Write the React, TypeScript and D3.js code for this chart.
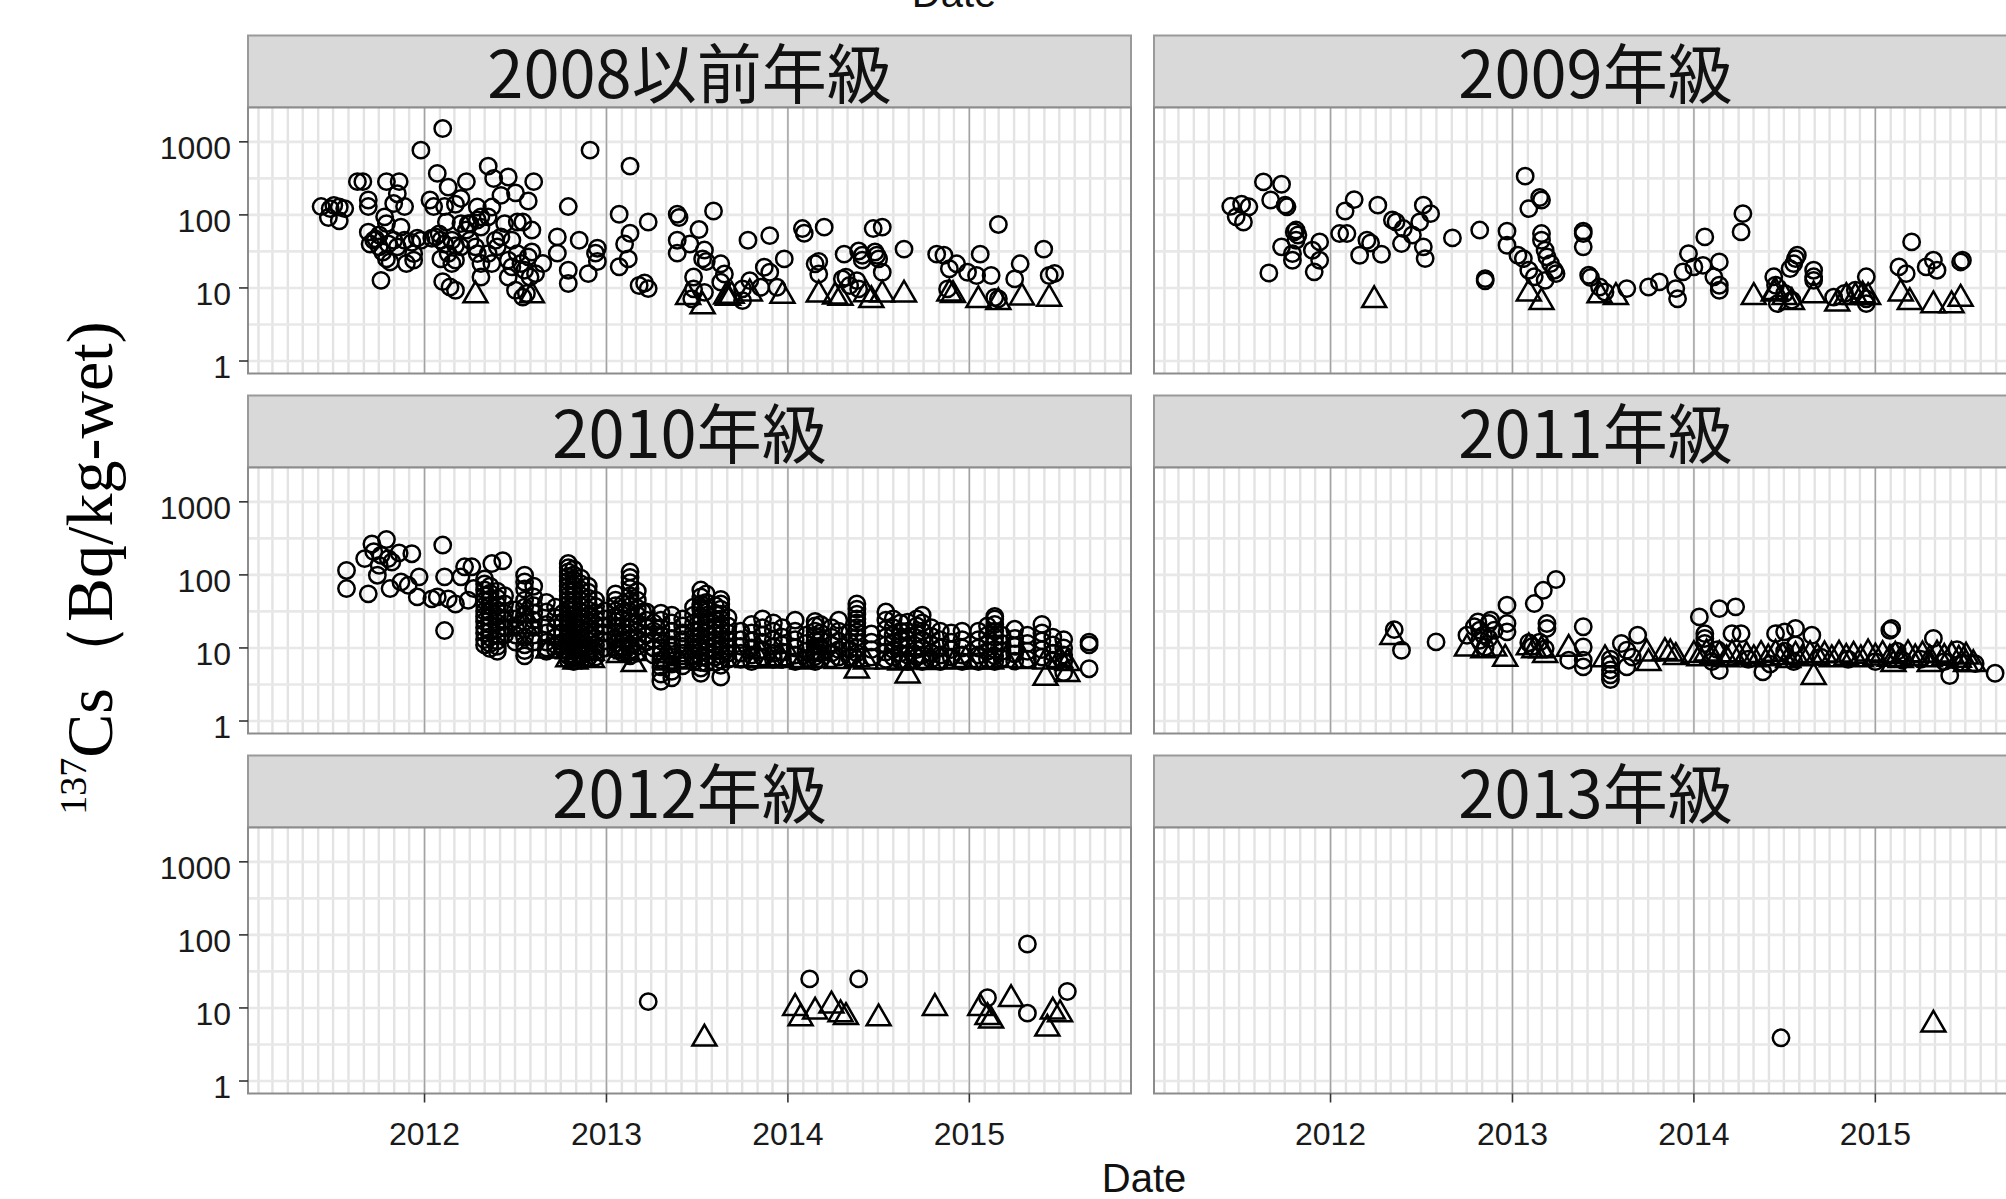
import React from "react";
import * as d3 from "d3";

type P = [number, number];
type Col = [number, number[]];

const PANEL_TITLES = ["2008以前年級", "2009年級", "2010年級", "2011年級", "2012年級", "2013年級"];
const X_TICK_YEARS = [2012, 2013, 2014, 2015];
const Y_TICKS = [1, 10, 100, 1000];
const Y_TICK_LABELS = ["1", "10", "100", "1000"];
const X_DOMAIN = [2011.027, 2015.891];
const Y_DOMAIN = [0.6745, 2951];
const X_TITLE = "Date";

// 2008以前年級 — detected (circles) and below detection limit (triangles)
const det2008: P[] = [
  [2012.10,1520],[2011.98,770],[2012.91,770],[2013.13,465],[2012.35,465],[2012.07,370],[2012.46,330],[2012.38,315],[2012.60,285],[2012.23,285],[2011.63,285],[2011.66,285],[2011.79,285],[2011.86,285],[2012.13,240],[2011.85,195],[2012.50,200],[2012.42,185],[2012.20,168],[2012.03,160],[2012.57,155],[2011.69,160],[2011.83,143],[2011.89,130],[2011.69,130],[2012.05,130],[2012.11,130],[2012.17,140],[2012.29,128],[2012.37,128],[2011.43,130],[2011.48,122],[2011.50,135],[2011.53,128],[2011.56,122],[2011.47,92],[2011.53,83],[2012.79,130],[2013.07,102],[2013.23,80],[2013.39,102],[2013.40,92],[2011.78,94],[2011.79,76],[2012.12,80],[2012.25,76],[2012.29,85],[2012.35,94],[2012.31,68],[2012.51,80],[2012.54,80],[2012.59,62],[2011.69,58],[2011.75,53],[2012.73,50],[2012.85,45],[2013.13,56],[2013.39,45],[2013.46,40],[2013.10,40],[2012.95,35],[2012.94,30],[2012.73,30],[2012.95,23],[2013.39,30],[2013.12,25],[2013.07,19.5],[2012.79,17.5],[2012.79,11.5],[2012.90,15.7],[2013.18,10.8],[2013.23,9.8],[2013.21,11.7],[2011.76,12.7],[2012.10,12.2],[2012.14,10.3],[2012.17,9.3],[2013.48,14.1],[2013.47,7.1],[2012.54,7.5],[2012.56,8.4],
  [2011.72,45],[2011.70,40],[2011.73,47],[2011.75,36.5],[2011.77,31],[2011.80,40],[2011.79,25],[2011.81,22.7],[2011.83,45],[2011.85,36.5],[2011.87,68],[2011.89,45],[2011.90,21.6],[2011.93,42],[2011.94,29.5],[2011.94,24],[2011.96,48],[2011.98,45],[2012.04,48],[2012.06,50],[2012.08,55],[2012.09,45],[2012.11,40],[2012.15,45],[2012.17,38],[2012.13,29.5],[2012.09,25],[2012.15,21.6],[2012.17,24],[2012.20,36.5],[2012.23,62],[2012.24,76],[2012.25,45],[2012.28,36.5],[2012.29,29.5],[2012.31,21.6],[2012.31,14.1],[2012.35,29.5],[2012.37,21.6],[2012.39,45],[2012.40,36.5],[2012.42,50],[2012.44,76],[2012.46,24],[2012.48,45],[2012.48,19.4],[2012.51,29.5],[2012.53,21.6],[2012.57,26.6],[2012.59,31],[2012.61,15.7],[2012.65,21.6],[2012.46,14.1],[2012.50,9.3],[2012.55,17.5],[2012.58,14.1],[2012.20,76],[2012.31,94],
  [2013.59,113],[2013.51,63],[2013.54,33],[2013.53,25],[2013.55,23],[2013.63,21.4],[2013.65,15.5],[2013.63,12],[2013.48,9.7],[2013.54,8.7],[2013.78,45],[2013.90,52],[2013.98,25],[2013.87,19.2],[2013.90,16.4],[2013.85,10.2],[2013.94,10.2],[2013.79,12.6],[2013.75,9.7],[2014.08,65],[2014.09,56],[2014.20,68],[2014.15,21.4],[2014.17,23],[2014.17,15.5],[2014.31,29],[2014.39,32],[2014.41,28],[2014.41,24],[2014.48,31],[2014.49,28],[2014.50,25],[2014.47,65],[2014.52,68],[2014.52,16.4],[2014.64,34],[2014.30,13.3],[2014.32,14],[2014.34,10.8],[2014.38,12.6],[2014.39,9.7],[2014.82,29],[2014.86,28],[2014.93,21.4],[2014.89,18.3],[2014.99,16.4],[2015.06,29],[2015.12,14.8],[2015.04,14.8],[2015.16,74],[2015.28,21.4],[2015.25,13.3],[2015.41,34],[2015.44,14.8],[2015.47,15.8],[2015.16,7.1],[2013.75,6.7],[2014.88,9.7],[2015.14,7.4]
];
const nd2008: P[] = [
  [2012.28,7.9],[2012.59,7.9],[2013.45,7.5],[2013.53,5.6],[2013.66,7.6],[2013.69,7.8],[2013.67,7.3],[2013.79,8.4],[2013.97,7.8],[2014.17,8.1],[2014.26,7.6],[2014.29,7.3],[2014.43,8.2],[2014.46,6.8],[2014.52,8.1],[2014.64,8.1],[2014.89,8.4],[2014.91,8.0],[2015.05,6.8],[2015.16,6.4],[2015.29,7.4],[2015.44,7.1]
];

// 2009年級
const det2009: P[] = [
  [2011.63,283],[2011.73,263],[2011.45,131],[2011.51,140],[2011.55,129],[2011.48,94],[2011.52,80],[2011.67,160],[2011.75,136],[2011.76,129],[2011.81,62],[2011.82,53],[2011.80,58.5],[2011.81,45],[2011.73,36.5],[2011.79,29.5],[2011.79,23.9],[2011.90,32.8],[2011.94,42.7],[2011.94,23.9],[2011.66,16],[2011.91,16.6],
  [2012.13,162],[2012.08,113],[2012.26,136],[2012.05,55.5],[2012.09,55.5],[2012.20,45],[2012.22,41.3],[2012.16,28],[2012.28,28.9],[2012.34,85],[2012.36,80],[2012.40,65],[2012.45,53],[2012.39,40.5],[2012.51,136],[2012.55,104],[2012.49,80],[2012.51,36.5],[2012.52,25.2],[2012.67,48.4],[2012.82,62],
  [2012.97,60],[2012.97,38.4],[2013.03,28],[2013.06,25.2],[2013.09,17.5],[2013.12,14.2],[2013.16,55.5],[2013.16,45],[2013.18,32.8],[2013.19,26.6],[2013.21,21.5],[2013.23,17.5],[2013.24,15.7],[2013.18,12.7],[2013.07,339],[2013.15,173],[2013.16,160],[2013.09,122],[2012.85,13.4],[2012.85,12.5],
  [2013.39,60],[2013.39,55.5],[2013.39,36.5],[2013.42,14.9],[2013.43,13.9],[2013.48,10.3],[2013.51,8.8],[2013.63,9.8],[2013.75,10.3],[2013.81,12.1],[2013.90,9.8],[2013.91,7.1],[2013.94,16.6],[2013.97,29.5],[2014.06,50],[2014.00,19.4],[2014.05,20.4],[2014.14,22.7],[2014.11,14.2],[2014.14,10.9],[2014.14,9.3],
  [2014.27,104],[2014.26,58.5],[2014.44,14.2],[2014.45,10.9],[2014.53,18.4],[2014.55,21.5],[2014.56,25.2],[2014.57,28],[2014.66,17.5],[2014.66,14.2],[2014.66,12.7],[2014.77,7.5],[2014.83,8.4],[2014.89,9.3],[2014.95,14.2],[2014.95,7.1],[2015.13,19.4],[2015.17,15.7],[2015.20,42.7],[2015.28,19.4],[2015.32,23.9],[2015.34,17.5],[2015.47,22.7],[2015.48,23.9],[2014.50,8.4],[2014.54,6.8],[2014.46,6.1],[2014.95,6.1]
];
const nd2009: P[] = [
  [2012.24,6.8],[2013.09,8.4],[2013.16,6.4],[2013.48,7.9],[2013.57,7.5],[2014.33,7.5],[2014.44,8.4],[2014.50,7.5],[2014.54,6.4],[2014.66,7.9],[2014.79,6.1],[2014.84,7.5],[2014.89,7.5],[2014.93,7.9],[2014.96,7.5],[2015.14,8.4],[2015.19,6.4],[2015.32,5.8],[2015.42,5.8],[2015.47,7.1],[2014.45,8.8]
];

// 2010年級 (scattered points + same-day sampling columns)
const det2010: P[] = [
  [2011.57,115],[2011.57,65],[2011.69,55],[2011.71,265],[2011.79,305],[2011.72,208],[2011.76,186],[2011.67,167],[2011.80,167],[2011.82,150],[2011.86,200],[2011.93,195],[2011.75,135],[2011.74,99],[2011.81,65],[2011.87,80],[2011.91,72],[2011.97,94],[2011.96,50],[2012.04,47],[2012.07,50],[2012.11,94],[2012.13,47],[2012.17,40],[2012.20,94],[2012.22,129],[2012.26,129],[2012.24,45],[2012.27,65],[2012.37,143],[2012.43,156],[2012.10,256],[2012.11,17.3],[2012.55,7.8],[2013.20,31],[2013.52,36]
];
const det2010Cols: Col[] = [
  [2012.33,[88,75,62,52,44,38,32,27,23,19,16,13,11]],
  [2012.36,[70,56,46,38,31,26,21,17,14,11.5,9.8]],
  [2012.40,[60,48,39,32,27,22,18,15,12.5,10.5,9]],
  [2012.44,[52,40,30,24,19,15]],
  [2012.50,[33,25,19,15,12]],
  [2012.55,[99,80,64,45,36,29,23,18,14,11,9.2]],
  [2012.60,[70,50,38,30,24,19,15,12]],
  [2012.67,[42,31,21,16,12,10,9]],
  [2012.72,[36,26,19,14,11,9.5]],
  [2012.76,[30,22,16,12,9.5]],
  [2012.79,[143,125,110,95,82,70,60,52,45,39,34,29,25,22,19,16.5,14,12,10.5,9,7.8,6.8]],
  [2012.82,[120,100,85,72,62,53,45,38,33,28,24,20,17,14.5,12.5,10.5,9,7.5,6.5]],
  [2012.86,[90,75,62,52,44,37,31,26,22,18.5,15.5,13,11,9.5,8,6.8]],
  [2012.90,[70,58,48,40,33,27,22,18,15,12.5,10.5,8.8,7.4]],
  [2012.94,[45,37,30,25,20,16.5,13.5,11,9,7.5]],
  [2012.99,[32,25,20,16,12.5,10]],
  [2013.05,[55,45,38,32,27,23,19,16,13.5,11.5,9.5]],
  [2013.09,[40,31,25,20,16,13,10.5,8.5]],
  [2013.13,[110,92,78,65,52,44,37,31,26,22,18.5,15.5,13,11,9.3,7.8]],
  [2013.17,[60,45,35,28,22,17,13.5,10.5,8.5]],
  [2013.22,[31,24,19,15,12]],
  [2013.26,[22,17,13,10,8]],
  [2013.30,[30,24,19,15,12.5,10,8.3,6.8,5.5,4.4,3.5]],
  [2013.36,[28,22,17,13.5,11,9,7.5,6,4.8,3.9]],
  [2013.42,[25,20,16,13,10.5,8.5,7,5.7]],
  [2013.48,[36,28,22,17,14,11.5,9.5,7.8,6.4]],
  [2013.52,[62,50,40,33,27,22,18,15,12.5,10.5,9,7.5,6.3,5.3,4.5]],
  [2013.55,[55,42,34,28,23,19,16,13,11,9,7.5,6.2]],
  [2013.60,[38,30,24,19.5,16,13,11,9,7.5,6.3]],
  [2013.63,[46,40,34,29,25,21,18,15,13,11,9.3,8,6.8,5.8,4.0]],
  [2013.67,[26,20,16,13,10.5,8.5,7]],
  [2013.74,[17,13,10.5,8.5,7]],
  [2013.80,[21,16,12.5,10,8,6.5]],
  [2013.86,[25,19,15,12,9.5,7.5]],
  [2013.92,[22,17,13,10.5,8.5,7]],
  [2013.97,[19,14,11,8.8,7]],
  [2014.04,[24,17,13,10,8,6.5]],
  [2014.10,[15,11.5,9,7.2]],
  [2014.15,[23,20,17,14.5,12.5,10.5,9,7.6,6.5]],
  [2014.18,[21,16,13,10.5,8.5,7]],
  [2014.24,[19,14,11,8.5,7]],
  [2014.28,[24,17,12.5,9.5,7.5]],
  [2014.34,[16,12,9.5,7.5]],
  [2014.38,[40,34,29,25,22,19,16.5,14,12,10,8.5,7]],
  [2014.46,[15.5,12,9.5,7.5]],
  [2014.54,[31,24,18,14,11,8.8,7]],
  [2014.58,[25,19,15,12,9.5,7.5]],
  [2014.62,[22,17,13,10.5,8.5,6.8]],
  [2014.66,[22.5,17,13,10,8,6.5]],
  [2014.71,[25,20,15.5,12,9.5,7.5]],
  [2014.74,[28,22,17,13,10,8,6.5]],
  [2014.79,[19,14.5,11,8.5,7]],
  [2014.84,[17,13,10,8,6.5]],
  [2014.90,[16,12,9.5,7.5]],
  [2014.96,[17,13,10,8,6.5]],
  [2015.05,[17,13,10,8,6.5]],
  [2015.10,[20,15,11.5,9,7]],
  [2015.14,[27,25,21,17,14,11.5,9.5,7.8,6.5]],
  [2015.18,[15,11.5,9,7.2]],
  [2015.25,[18,13.5,10.5,8.3,6.6]],
  [2015.32,[15,11.5,9,7]],
  [2015.40,[21,16,12.5,9.5,7.5]],
  [2015.46,[14,11,8.5,6.8]],
  [2015.52,[13,10,8,6.5,4.6]],
  [2015.66,[12,11,5.2]]
];
const nd2010Cols: Col[] = [
  [2012.55,[28,20]],[2012.68,[9.2]],[2012.79,[7,9,12]],[2012.83,[6.5,8,11]],[2012.87,[7,9.5]],[2012.92,[6.8,8.5]],[2013.07,[8,10]],[2013.11,[9]],[2013.15,[6.0,8.5]],[2013.33,[6.3,8]],[2013.40,[6.5]],[2013.45,[7.5]],[2013.72,[7]],[2013.78,[6.8]],[2013.84,[7,9]],[2013.90,[6.7]],[2013.96,[7.2]],[2014.02,[6.8]],[2014.08,[6.5]],[2014.15,[6.8,8.5]],[2014.20,[6.8]],[2014.27,[6.6]],[2014.38,[4.9,7]],[2014.43,[6.5]],[2014.55,[6.5]],[2014.62,[6.3]],[2014.66,[4.2,6.5]],[2014.72,[6.6]],[2014.78,[6.4]],[2014.85,[6.6]],[2014.92,[6.5]],[2014.98,[6.8]],[2015.04,[6.5]],[2015.12,[6.5]],[2015.20,[6.8]],[2015.30,[6.6]],[2015.42,[3.9,6.5]],[2015.50,[6.8]],[2015.54,[4.4,6.2]]
];

// 2011年級
const det2011: P[] = [
  [2012.35,17.8],[2012.39,9.3],[2012.58,12.1],[2012.75,14.9],[2012.81,22.7],[2012.82,17.5],[2012.87,21.6],[2012.88,24],[2012.90,17.5],[2012.97,38.5],[2012.97,21.6],[2012.97,16.6],[2012.82,12.7],[2012.85,10.3],[2012.87,13.5],[2012.79,19.5],[2012.84,15],
  [2013.12,40.5],[2013.17,61.5],[2013.24,86.5],[2013.19,21.6],[2013.19,18.5],[2013.11,10.5],[2013.15,12],[2013.18,9.8],[2013.09,11.8],[2013.39,19.5],[2013.39,10.3],[2013.39,6.8],[2013.39,5.5],[2013.31,6.8],[2013.54,7],[2013.54,6],[2013.54,5],[2013.54,4.3],[2013.54,3.7],[2013.60,11.5],[2013.63,9.3],[2013.66,7.5],[2013.63,5.5],[2013.69,15],
  [2014.03,26.6],[2014.14,34.5],[2014.23,36.5],[2014.06,15.7],[2014.06,13.5],[2014.06,11.5],[2014.14,4.9],[2014.21,15.7],[2014.26,15.7],[2014.38,4.7],[2014.45,15.7],[2014.50,16.6],[2014.56,18.5],[2014.65,14.9],[2015.08,17.5],[2015.09,18.5],[2015.32,13.5],[2015.55,6.1],[2015.66,4.5],[2015.41,4.2],
  [2014.10,6.5],[2014.30,7],[2014.42,6],[2014.55,6.5],[2014.70,7.5],[2014.85,7],[2015.00,6.5],[2015.15,6.8],[2015.25,7],[2015.38,6.5],[2015.48,6.3],[2014.13,9.5],[2014.50,9],[2014.56,11],[2015.12,9],[2015.45,9.5]
];
const nd2011: P[] = [
  [2012.34,14.1],[2012.75,9.8],[2012.84,9.3],[2012.90,9.8],[2012.96,7.1],[2013.09,10.2],[2013.12,9.3],[2013.16,9.3],[2013.18,8.0],[2013.31,9.7],[2013.51,7],[2013.74,8.4],[2013.75,6.2],[2013.84,8.8],[2013.87,8.4],[2013.90,7.5],[2014.66,4.0],
  [2014.00,8.0],[2014.03,7.2],[2014.07,8.4],[2014.10,7.5],[2014.14,8.0],[2014.18,7.0],[2014.21,8.2],[2014.25,7.4],[2014.29,7.8],[2014.33,7.0],[2014.37,8.0],[2014.41,7.2],[2014.45,8.3],[2014.49,7.5],[2014.52,6.8],[2014.56,7.8],[2014.60,7.2],[2014.64,8.0],[2014.68,7.4],[2014.72,7.9],[2014.76,7.0],[2014.80,8.1],[2014.84,7.3],[2014.88,7.8],[2014.92,7.0],[2014.96,8.4],[2015.00,7.4],[2015.04,8.0],[2015.08,7.1],[2015.11,7.8],[2015.14,6.8],[2015.18,8.2],[2015.22,7.2],[2015.26,7.9],[2015.30,7.0],[2015.34,8.1],[2015.38,7.3],[2015.42,7.8],[2015.46,6.9],[2015.50,7.6],[2015.54,6.0],[2015.10,6.0],[2015.30,6.0],[2015.50,6.0]
];

// 2012年級
const det2012: P[] = [[2013.23,12.2],[2014.12,25],[2014.39,25],[2015.32,75],[2015.32,8.5],[2015.10,13.8],[2015.54,16.8]];
const nd2012: P[] = [[2013.54,3.8],[2014.04,10],[2014.07,7.2],[2014.15,8.9],[2014.24,10.8],[2014.29,8.2],[2014.32,7.5],[2014.50,7.2],[2014.81,10],[2015.06,10],[2015.10,7.5],[2015.12,6.7],[2015.23,13.2],[2015.43,5.2],[2015.46,8.9],[2015.50,8.2]];

// 2013年級
const det2013: P[] = [[2014.48,3.9]];
const nd2013: P[] = [[2015.32,5.9]];

const flatCols = (cols: Col[]): P[] => cols.flatMap(([t, vs]) => vs.map((v) => [t, v] as P));

const PANEL_DET: P[][] = [det2008, det2009, [...det2010, ...flatCols(det2010Cols)], det2011, det2012, det2013];
const PANEL_ND: P[][] = [nd2008, nd2009, flatCols(nd2010Cols), nd2011, nd2012, nd2013];

// layout
const W = 2006, H = 1199;
const PW = 883, PH = 266, STRIP_H = 72;
const COL_X = [248, 1154];
const ROW_PITCH = 360, FIRST_STRIP_TOP = 35.5;

function toDate(y: number): Date {
  const yr = Math.floor(y);
  const s = Date.UTC(yr, 0, 1), e = Date.UTC(yr + 1, 0, 1);
  return new Date(s + (y - yr) * (e - s));
}

const TRI_SIDE = 24;
const triH = (TRI_SIDE * Math.sqrt(3)) / 2;
const triPath = `M0,${-(2 * triH) / 3}L${TRI_SIDE / 2},${triH / 3}L${-TRI_SIDE / 2},${triH / 3}Z`;

export default function App() {
  const x = d3.scaleUtc().domain(X_DOMAIN.map(toDate)).range([0, PW]);
  const y = d3.scaleLog().domain(Y_DOMAIN).range([PH, 0]);
  const months = d3.utcMonth.range(x.domain()[0], x.domain()[1]);
  const years = X_TICK_YEARS.map((yy) => toDate(yy));
  const hGrid = d3.range(0, 7).map((k) => Math.pow(10, k / 2)).filter((v) => v >= Y_DOMAIN[0] && v <= Y_DOMAIN[1]);
  const sansFont = "'Liberation Sans', Arial, Helvetica, sans-serif";

  return (
    <svg width={W} height={H} style={{ position: "absolute", left: 0, top: 0, background: "#fff" }}>
      <rect x={0} y={0} width={W} height={H} fill="#fff" />
      <text x={954} y={6.5} textAnchor="middle" fontFamily={sansFont} fontSize={40} fill="#111">{X_TITLE}</text>
      {PANEL_TITLES.map((title, i) => {
        const r = Math.floor(i / 2), c = i % 2;
        const x0 = COL_X[c];
        const stripTop = FIRST_STRIP_TOP + r * ROW_PITCH;
        const plotTop = stripTop + STRIP_H;
        return (
          <g key={title}>
            <g transform={`translate(${x0},${stripTop})`}>
              <rect x={0} y={0} width={PW} height={STRIP_H} fill="#d9d9d9" stroke="#9a9a9a" strokeWidth={2} />
              <text x={PW / 2} y={62} textAnchor="middle" fontFamily="'Noto Sans CJK JP', 'Noto Sans', sans-serif" fontSize={65} fill="#111">{title}</text>
            </g>
            <g transform={`translate(${x0},${plotTop})`}>
              <rect x={0} y={0} width={PW} height={PH} fill="#fff" />
              {months.map((m, k) => (
                <line key={"m" + k} x1={x(m)} x2={x(m)} y1={0} y2={PH} stroke="#e3e3e3" strokeWidth={2.4} />
              ))}
              {hGrid.map((v, k) => (
                <line key={"h" + k} x1={0} x2={PW} y1={y(v)} y2={y(v)} stroke="#e8e8e8" strokeWidth={2.6} />
              ))}
              {years.map((d, k) => (
                <line key={"y" + k} x1={x(d)} x2={x(d)} y1={0} y2={PH} stroke="#a3a3a3" strokeWidth={1.4} />
              ))}
              {PANEL_DET[i].map(([t, v], k) => (
                <circle key={"c" + k} cx={x(toDate(t))} cy={y(v)} r={8.2} fill="none" stroke="#000" strokeWidth={2.5} />
              ))}
              {PANEL_ND[i].map(([t, v], k) => (
                <path key={"t" + k} d={triPath} transform={`translate(${x(toDate(t))},${y(v)})`} fill="none" stroke="#000" strokeWidth={2.5} strokeLinejoin="miter" />
              ))}
              <rect x={0} y={0} width={PW} height={PH} fill="none" stroke="#8c8c8c" strokeWidth={2} />
              {c === 0 &&
                Y_TICKS.map((v, k) => (
                  <g key={"yt" + k}>
                    <line x1={-9} x2={0} y1={y(v)} y2={y(v)} stroke="#333" strokeWidth={1.6} />
                    <text x={-17} y={y(v) + 17} textAnchor="end" fontFamily={sansFont} fontSize={32} fill="#1a1a1a">{Y_TICK_LABELS[k]}</text>
                  </g>
                ))}
              {r === 2 &&
                years.map((d, k) => (
                  <g key={"xt" + k}>
                    <line x1={x(d)} x2={x(d)} y1={PH} y2={PH + 9} stroke="#333" strokeWidth={1.6} />
                    <text x={x(d)} y={PH + 51} textAnchor="middle" fontFamily={sansFont} fontSize={32} fill="#1a1a1a">{String(X_TICK_YEARS[k])}</text>
                  </g>
                ))}
            </g>
          </g>
        );
      })}
      <text x={1144} y={1192} textAnchor="middle" fontFamily={sansFont} fontSize={40} fill="#111">{X_TITLE}</text>
      <text transform="translate(112,568) rotate(-90)" textAnchor="middle" fontFamily="'Liberation Serif', 'Times New Roman', serif" fill="#000">
        <tspan fontSize={38} dy={-26}>137</tspan>
        <tspan fontSize={66} dy={26}>Cs</tspan>
        <tspan fontSize={66}>（Bq/kg-wet)</tspan>
      </text>
    </svg>
  );
}
